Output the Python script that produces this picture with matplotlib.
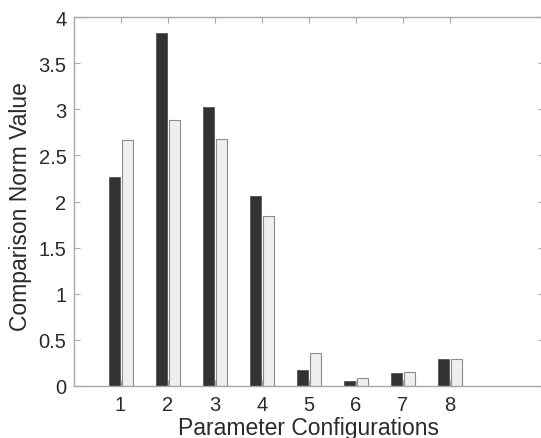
import matplotlib
matplotlib.use("Agg")
import matplotlib.pyplot as plt
import numpy as np

# values
configs = [1, 2, 3, 4, 5, 6, 7, 8]
dark_values = [2.27, 3.83, 3.03, 2.06, 0.17, 0.05, 0.14, 0.29]
light_values = [2.67, 2.89, 2.68, 1.84, 0.36, 0.08, 0.15, 0.29]
y_ticks = [0, 0.5, 1, 1.5, 2, 2.5, 3, 3.5, 4]
y_tick_labels = ["0", "0.5", "1", "1.5", "2", "2.5", "3", "3.5", "4"]

DARK_COLOR = "#333333"
LIGHT_COLOR = "#efefef"
EDGE_COLOR = "#8c8c8c"
SPINE_COLOR = "#a8a8a8"
TEXT_COLOR = "#2a2a2a"

plt.rcParams["font.family"] = ["Liberation Sans", "DejaVu Sans"]

fig = plt.figure(figsize=(5.41, 4.39), dpi=100)
ax = fig.add_axes([73.5 / 541, 52.3 / 439, 470.5 / 541, 368.4 / 439])

x = np.array(configs, dtype=float)
width = 0.23
ax.bar(x - 0.135, dark_values, width, color=DARK_COLOR, edgecolor="#555555",
       linewidth=0.6, zorder=2)
ax.bar(x + 0.14, light_values, width, color=LIGHT_COLOR, edgecolor=EDGE_COLOR,
       linewidth=0.8, zorder=2)

ax.set_xlim(0, 10)
ax.set_ylim(0, 4)
ax.set_xticks(configs)
ax.set_yticks(y_ticks)
ax.set_yticklabels(y_tick_labels)

for spine in ax.spines.values():
    spine.set_color(SPINE_COLOR)
    spine.set_linewidth(1.0)

ax.tick_params(direction="in", top=True, right=True, length=4, width=0.8,
               color=SPINE_COLOR, labelsize=14.5, labelcolor=TEXT_COLOR)
ax.tick_params(axis="x", pad=7)
ax.tick_params(axis="y", pad=5)

ax.set_xlabel("Parameter Configurations", fontsize=16.5, color=TEXT_COLOR)
ax.set_ylabel("Comparison Norm Value", fontsize=16.5, color=TEXT_COLOR)
ax.xaxis.set_label_coords(0.5, -0.081)
ax.yaxis.set_label_coords(-0.088, 0.49)

fig.savefig("out.png", dpi=100)
